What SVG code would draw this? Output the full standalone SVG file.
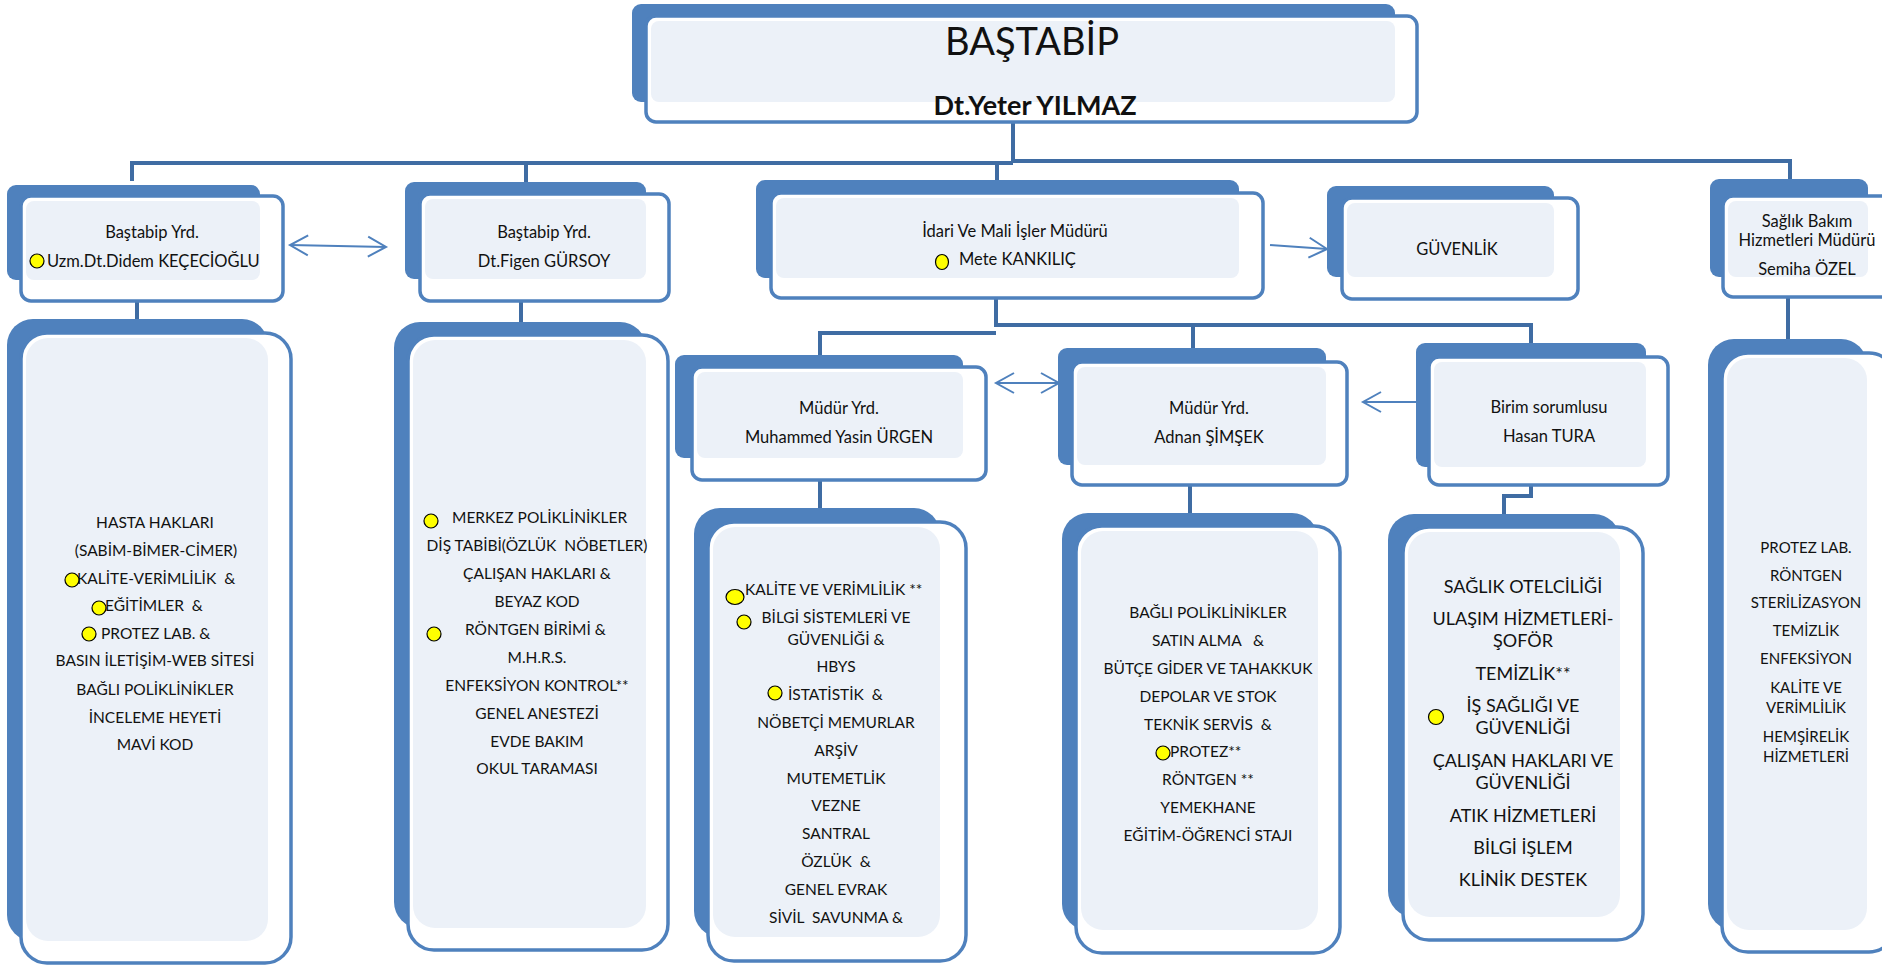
<svg xmlns="http://www.w3.org/2000/svg" width="1882" height="968" viewBox="0 0 1882 968">
<defs>
<style>
.dk{fill:#4F81BD}
.wb{fill:#FFFFFF;stroke:#4F81BD;stroke-width:3.5}
.pn{fill:#ECF1F8}
.t{font-family:Lato,'Liberation Sans',sans-serif;fill:#111;text-anchor:middle}
.s{text-anchor:start}
.n{font-size:16.5px}
.b{font-size:15.5px}
.e{font-size:18px}
.f{font-size:15px}
.dot{fill:#FFFF00;stroke:#000;stroke-width:1.2}
.cn{fill:none;stroke:#3F6CA3;stroke-width:4}
.ar{fill:none;stroke:#4F81BD;stroke-width:2}
</style>
<marker id="ah" viewBox="0 0 24 24" markerWidth="24" markerHeight="24" refX="21" refY="12" orient="auto-start-reverse" markerUnits="userSpaceOnUse">
<path d="M3,2 L21,12 L3,22" fill="none" stroke="#4F81BD" stroke-width="2"/>
</marker>
</defs>
<rect width="1882" height="968" fill="#FFFFFF"/>
<g id="connectors">
<path class="cn" d="M1013,122 V161 H1790 V180"/>
<path class="cn" d="M132,181 V163 H1013"/>
<path class="cn" d="M526,163 V182"/>
<path class="cn" d="M997,161 V180"/>
<path class="cn" d="M137,299 V320"/>
<path class="cn" d="M521,299 V323"/>
<path class="cn" d="M1788,297 V339"/>
<path class="cn" d="M996,298 V325 H1531 V343" stroke-width="5"/>
<path class="cn" d="M996,333 H820 V355"/>
<path class="cn" d="M1193,325 V348"/>
<path class="cn" d="M820,480 V508"/>
<path class="cn" d="M1190,485 V513"/>
<path class="cn" d="M1531,485 V496 H1504 V514"/>
<path class="ar" d="M290,245 L386,247" marker-start="url(#ah)" marker-end="url(#ah)"/>
<path class="ar" d="M1270,245 L1327,249" marker-end="url(#ah)"/>
<path class="ar" d="M996,383 L1059,383" marker-start="url(#ah)" marker-end="url(#ah)"/>
<path class="ar" d="M1432,402 L1363,402" marker-end="url(#ah)"/>
</g>
<g id="bastabip">
<rect class="dk" x="632" y="4" width="763" height="98" rx="9"/>
<rect class="wb" x="646" y="16" width="771" height="106" rx="10" stroke-width="4"/>
<rect class="pn" x="651" y="21" width="744" height="81" rx="8"/>
<text class="t" x="1032" y="55" font-size="38">BAŞTABİP</text>
<text class="t" x="1035" y="115" font-size="27" font-weight="bold">Dt.Yeter YILMAZ</text>
</g>
<g id="yrd1">
<rect class="dk" x="7" y="185" width="253" height="95" rx="9"/>
<rect class="wb" x="21" y="196" width="262" height="105" rx="10"/>
<rect class="pn" x="26" y="201" width="234" height="79" rx="8"/>
<text class="t n" x="152" y="238">Baştabip Yrd.</text>
<text class="t n s" x="47" y="267">Uzm.Dt.Didem KEÇECİOĞLU</text>
<circle class="dot" cx="37" cy="261" r="7"/>
</g>
<g id="yrd2">
<rect class="dk" x="405" y="182" width="241" height="97" rx="9"/>
<rect class="wb" x="420" y="194" width="249" height="107" rx="10"/>
<rect class="pn" x="425" y="199" width="221" height="80" rx="8"/>
<text class="t n" x="544" y="238">Baştabip Yrd.</text>
<text class="t n" x="544" y="267">Dt.Figen GÜRSOY</text>
</g>
<g id="idari">
<rect class="dk" x="756" y="180" width="483" height="98" rx="9"/>
<rect class="wb" x="771" y="193" width="492" height="105" rx="10"/>
<rect class="pn" x="776" y="198" width="463" height="80" rx="8"/>
<text class="t n" x="1015" y="237">İdari Ve Mali İşler Müdürü</text>
<text class="t n s" x="959" y="265">Mete KANKILIÇ</text>
<ellipse class="dot" cx="942" cy="262" rx="6.5" ry="7.5"/>
</g>
<g id="guvenlik">
<rect class="dk" x="1327" y="186" width="227" height="91" rx="9"/>
<rect class="wb" x="1342" y="198" width="236" height="101" rx="10"/>
<rect class="pn" x="1347" y="203" width="207" height="74" rx="8"/>
<text class="t n" x="1457" y="255">GÜVENLİK</text>
</g>
<g id="saglik">
<rect class="dk" x="1710" y="179" width="158" height="98" rx="9"/>
<rect class="wb" x="1723" y="196" width="172" height="101" rx="10"/>
<rect class="pn" x="1728" y="201" width="140" height="76" rx="8"/>
<text class="t n" x="1807" y="227">Sağlık Bakım</text>
<text class="t n" x="1807" y="246">Hizmetleri Müdürü</text>
<text class="t n" x="1807" y="275">Semiha ÖZEL</text>
</g>
<g id="mudur1">
<rect class="dk" x="675" y="355" width="288" height="103" rx="9"/>
<rect class="wb" x="692" y="367" width="294" height="113" rx="10"/>
<rect class="pn" x="697" y="372" width="266" height="86" rx="8"/>
<text class="t n" x="839" y="414">Müdür Yrd.</text>
<text class="t n" x="839" y="443">Muhammed Yasin ÜRGEN</text>
</g>
<g id="mudur2">
<rect class="dk" x="1058" y="348" width="268" height="117" rx="9"/>
<rect class="wb" x="1072" y="362" width="275" height="123" rx="10"/>
<rect class="pn" x="1077" y="367" width="249" height="98" rx="8"/>
<text class="t n" x="1209" y="414">Müdür Yrd.</text>
<text class="t n" x="1209" y="443">Adnan ŞİMŞEK</text>
</g>
<g id="birim">
<rect class="dk" x="1416" y="343" width="230" height="124" rx="9"/>
<rect class="wb" x="1429" y="357" width="239" height="128" rx="10"/>
<rect class="pn" x="1434" y="362" width="212" height="105" rx="8"/>
<text class="t n" x="1549" y="413">Birim sorumlusu</text>
<text class="t n" x="1549" y="442">Hasan TURA</text>
</g>
<g id="boxA">
<rect class="dk" x="7" y="319" width="261" height="622" rx="26"/>
<rect class="wb" x="21" y="333" width="270" height="630" rx="26"/>
<rect class="pn" x="26" y="338" width="242" height="603" rx="22"/>
<text class="t b" x="155" y="528">HASTA HAKLARI</text>
<text class="t b" x="156" y="556">(SABİM-BİMER-CİMER)</text>
<text class="t b s" x="77" y="584" xml:space="preserve">KALİTE-VERİMLİLİK  &amp;</text>
<text class="t b s" x="105" y="611" xml:space="preserve">EĞİTİMLER  &amp;</text>
<text class="t b s" x="101" y="639">PROTEZ LAB. &amp;</text>
<text class="t b" x="155" y="666">BASIN İLETİŞİM-WEB SİTESİ</text>
<text class="t b" x="155" y="695">BAĞLI POLİKLİNİKLER</text>
<text class="t b" x="155" y="723">İNCELEME HEYETİ</text>
<text class="t b" x="155" y="750">MAVİ KOD</text>
<circle class="dot" cx="72" cy="580" r="7"/>
<circle class="dot" cx="99" cy="608" r="7"/>
<circle class="dot" cx="89" cy="634" r="7"/>
</g>
<g id="boxB">
<rect class="dk" x="394" y="322" width="252" height="606" rx="26"/>
<rect class="wb" x="408" y="335" width="260" height="615" rx="26"/>
<rect class="pn" x="413" y="340" width="233" height="588" rx="22"/>
<text class="t b s" x="452" y="523">MERKEZ POLİKLİNİKLER</text>
<text class="t b" x="537" y="551" xml:space="preserve">DİŞ TABİBİ(ÖZLÜK  NÖBETLER)</text>
<text class="t b" x="537" y="579">ÇALIŞAN HAKLARI &amp;</text>
<text class="t b" x="537" y="607">BEYAZ KOD</text>
<text class="t b s" x="465" y="635">RÖNTGEN BİRİMİ &amp;</text>
<text class="t b" x="537" y="663">M.H.R.S.</text>
<text class="t b" x="537" y="691">ENFEKSİYON KONTROL**</text>
<text class="t b" x="537" y="719">GENEL ANESTEZİ</text>
<text class="t b" x="537" y="747">EVDE BAKIM</text>
<text class="t b" x="537" y="774">OKUL TARAMASI</text>
<circle class="dot" cx="431" cy="521" r="7"/>
<circle class="dot" cx="434" cy="634" r="7"/>
</g>
<g id="boxC">
<rect class="dk" x="694" y="508" width="246" height="429" rx="26"/>
<rect class="wb" x="708" y="522" width="258" height="439" rx="26"/>
<rect class="pn" x="713" y="527" width="227" height="410" rx="22"/>
<text class="t b s" x="745" y="595">KALİTE VE VERİMLİLİK **</text>
<text class="t b" x="836" y="623">BİLGİ SİSTEMLERİ VE</text>
<text class="t b" x="836" y="645">GÜVENLİĞİ &amp;</text>
<text class="t b" x="836" y="672">HBYS</text>
<text class="t b s" x="788" y="700" xml:space="preserve">İSTATİSTİK  &amp;</text>
<text class="t b" x="836" y="728">NÖBETÇİ MEMURLAR</text>
<text class="t b" x="836" y="756">ARŞİV</text>
<text class="t b" x="836" y="784">MUTEMETLİK</text>
<text class="t b" x="836" y="811">VEZNE</text>
<text class="t b" x="836" y="839">SANTRAL</text>
<text class="t b" x="836" y="867" xml:space="preserve">ÖZLÜK  &amp;</text>
<text class="t b" x="836" y="895">GENEL EVRAK</text>
<text class="t b" x="836" y="923" xml:space="preserve">SİVİL  SAVUNMA &amp;</text>
<ellipse class="dot" cx="735" cy="597" rx="9" ry="7.5"/>
<circle class="dot" cx="744" cy="622" r="7"/>
<circle class="dot" cx="775" cy="693" r="7"/>
</g>
<g id="boxD">
<rect class="dk" x="1062" y="513" width="256" height="417" rx="26"/>
<rect class="wb" x="1076" y="526" width="264" height="427" rx="26"/>
<rect class="pn" x="1081" y="531" width="237" height="399" rx="22"/>
<text class="t b" x="1208" y="618">BAĞLI POLİKLİNİKLER</text>
<text class="t b" x="1208" y="646" xml:space="preserve">SATIN ALMA   &amp;</text>
<text class="t b" x="1208" y="674">BÜTÇE GİDER VE TAHAKKUK</text>
<text class="t b" x="1208" y="702">DEPOLAR VE STOK</text>
<text class="t b" x="1208" y="730" xml:space="preserve">TEKNİK SERVİS  &amp;</text>
<text class="t b s" x="1170" y="757">PROTEZ**</text>
<text class="t b" x="1208" y="785">RÖNTGEN **</text>
<text class="t b" x="1208" y="813">YEMEKHANE</text>
<text class="t b" x="1208" y="841">EĞİTİM-ÖĞRENCİ STAJI</text>
<circle class="dot" cx="1163" cy="753" r="7"/>
</g>
<g id="boxE">
<rect class="dk" x="1388" y="514" width="232" height="403" rx="26"/>
<rect class="wb" x="1403" y="527" width="240" height="413" rx="26"/>
<rect class="pn" x="1408" y="532" width="212" height="385" rx="22"/>
<text class="t e" x="1523" y="593">SAĞLIK OTELCİLİĞİ</text>
<text class="t e" x="1523" y="625">ULAŞIM HİZMETLERİ-</text>
<text class="t e" x="1523" y="647">ŞOFÖR</text>
<text class="t e" x="1523" y="680">TEMİZLİK**</text>
<text class="t e" x="1523" y="712">İŞ SAĞLIĞI VE</text>
<text class="t e" x="1523" y="734">GÜVENLİĞİ</text>
<text class="t e" x="1523" y="767">ÇALIŞAN HAKLARI VE</text>
<text class="t e" x="1523" y="789">GÜVENLİĞİ</text>
<text class="t e" x="1523" y="822">ATIK HİZMETLERİ</text>
<text class="t e" x="1523" y="854">BİLGİ İŞLEM</text>
<text class="t e" x="1523" y="886">KLİNİK DESTEK</text>
<circle class="dot" cx="1436" cy="717" r="7.5"/>
</g>
<g id="boxF">
<rect class="dk" x="1708" y="339" width="159" height="591" rx="26"/>
<rect class="wb" x="1722" y="353" width="173" height="599" rx="26"/>
<rect class="pn" x="1727" y="358" width="140" height="572" rx="22"/>
<text class="t f" x="1806" y="553">PROTEZ LAB.</text>
<text class="t f" x="1806" y="581">RÖNTGEN</text>
<text class="t f" x="1806" y="608">STERİLİZASYON</text>
<text class="t f" x="1806" y="636">TEMİZLİK</text>
<text class="t f" x="1806" y="664">ENFEKSİYON</text>
<text class="t f" x="1806" y="693">KALİTE VE</text>
<text class="t f" x="1806" y="713">VERİMLİLİK</text>
<text class="t f" x="1806" y="742">HEMŞİRELİK</text>
<text class="t f" x="1806" y="762">HİZMETLERİ</text>
</g>
</svg>
